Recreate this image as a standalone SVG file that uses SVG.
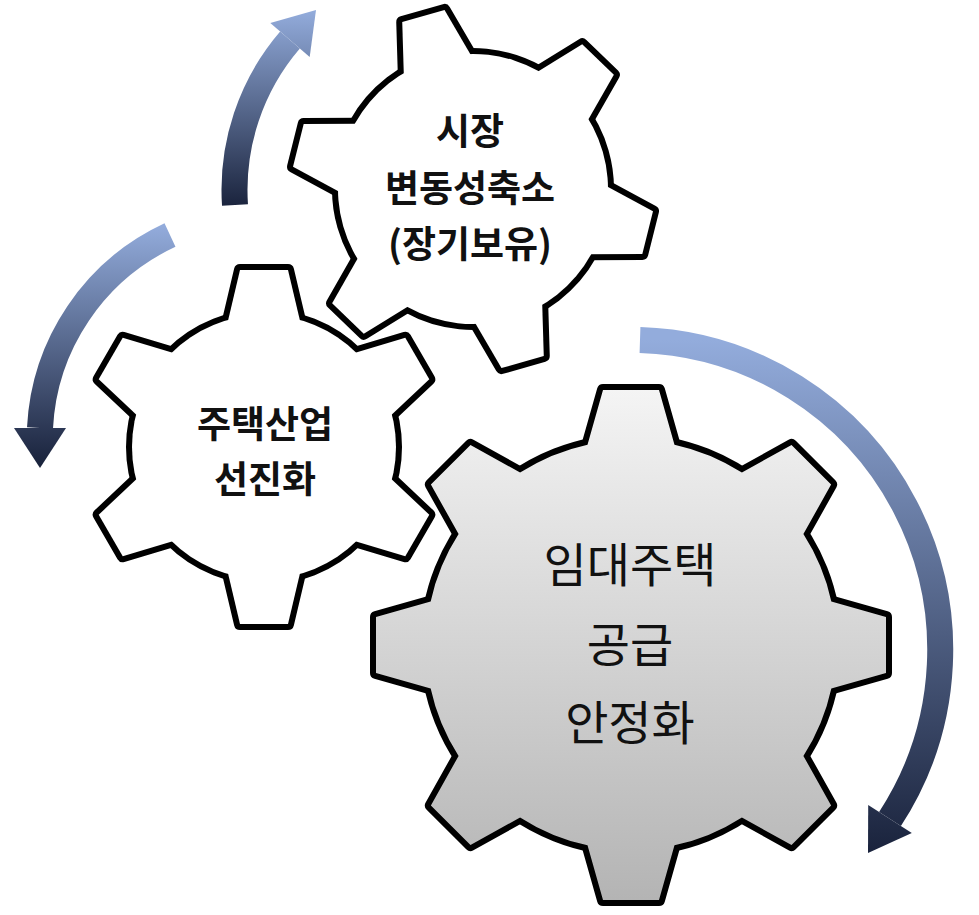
<svg xmlns="http://www.w3.org/2000/svg" width="979" height="915" viewBox="0 0 979 915">
<defs>
<linearGradient id="gBig" gradientUnits="userSpaceOnUse" x1="0" y1="390" x2="0" y2="900"><stop offset="0" stop-color="#f4f4f4"/><stop offset="1" stop-color="#b4b4b4"/></linearGradient>
<linearGradient id="aBig" gradientUnits="userSpaceOnUse" x1="0" y1="340" x2="0" y2="860"><stop offset="0" stop-color="#93acdc"/><stop offset="1" stop-color="#18213a"/></linearGradient>
<linearGradient id="aLeft" gradientUnits="userSpaceOnUse" x1="0" y1="225" x2="0" y2="468"><stop offset="0" stop-color="#93acdc"/><stop offset="1" stop-color="#18213a"/></linearGradient>
<linearGradient id="aTop" gradientUnits="userSpaceOnUse" x1="0" y1="10" x2="0" y2="210"><stop offset="0" stop-color="#93acdc"/><stop offset="1" stop-color="#18213a"/></linearGradient>
<polygon id="tBig" points="-45,-195 45,-195 28,-255 -28,-255"/>
<polygon id="tL" points="-37,-122 37,-122 24,-177 -24,-177"/>
<polygon id="tT" points="-36,-125 36,-125 22,-180 -22,-180"/>
<g id="big"><circle r="205"/><use href="#tBig"/><use href="#tBig" transform="rotate(45)"/><use href="#tBig" transform="rotate(90)"/><use href="#tBig" transform="rotate(135)"/><use href="#tBig" transform="rotate(180)"/><use href="#tBig" transform="rotate(225)"/><use href="#tBig" transform="rotate(270)"/><use href="#tBig" transform="rotate(315)"/></g>
<g id="left"><circle r="132"/><use href="#tL"/><use href="#tL" transform="rotate(60)"/><use href="#tL" transform="rotate(120)"/><use href="#tL" transform="rotate(180)"/><use href="#tL" transform="rotate(240)"/><use href="#tL" transform="rotate(300)"/></g>
<g id="top"><circle r="135"/><use href="#tT"/><use href="#tT" transform="rotate(60)"/><use href="#tT" transform="rotate(120)"/><use href="#tT" transform="rotate(180)"/><use href="#tT" transform="rotate(240)"/><use href="#tT" transform="rotate(300)"/></g>
<clipPath id="cb">
<circle cx="631" cy="645" r="205"/>
<use href="#tBig" transform="translate(631,645)"/>
<use href="#tBig" transform="translate(631,645) rotate(45)"/>
<use href="#tBig" transform="translate(631,645) rotate(90)"/>
<use href="#tBig" transform="translate(631,645) rotate(135)"/>
<use href="#tBig" transform="translate(631,645) rotate(180)"/>
<use href="#tBig" transform="translate(631,645) rotate(225)"/>
<use href="#tBig" transform="translate(631,645) rotate(270)"/>
<use href="#tBig" transform="translate(631,645) rotate(315)"/>
</clipPath>
</defs>
<style>
.o{stroke:#000;stroke-width:12;stroke-linejoin:round}
.t{font-family:"Noto Sans CJK KR","Noto Sans",sans-serif;fill:#111;text-anchor:middle}
</style>
<g id="connectors">
<path d="M640,340 A310,310 0 0 1 890,819" fill="none" stroke="url(#aBig)" stroke-width="26"/>
<polygon points="911.8,833 868.2,805 868,853" fill="url(#aBig)"/>
<path d="M170,235 A225,225 0 0 0 40,428" fill="none" stroke="url(#aLeft)" stroke-width="26"/>
<polygon points="14,428 66,428 40,468" fill="url(#aLeft)"/>
<path d="M235,205 A230,230 0 0 1 290,40" fill="none" stroke="url(#aTop)" stroke-width="26"/>
<polygon points="309.7,56.9 270.3,23.1 316,10" fill="url(#aTop)"/>
</g>
<g id="gearTop">
<g transform="translate(473,189) rotate(-16)"><use href="#top" class="o" fill="#fff"/><use href="#top" fill="#fff"/></g>
<g class="t" font-size="37" font-weight="bold"><text x="470" y="145">시장</text><text x="470" y="202">변동성축소</text><text x="470" y="258">(장기보유)</text></g>
</g>
<g id="gearLeft">
<g transform="translate(264,447)"><use href="#left" class="o" fill="#fff"/><use href="#left" fill="#fff"/></g>
<g class="t" font-size="37" font-weight="bold"><text x="265" y="438">주택산업</text><text x="265" y="493">선진화</text></g>
</g>
<g id="gearBig">
<g transform="translate(631,645)"><use href="#big" class="o" fill="#000"/></g>
<rect x="370" y="385" width="525" height="525" fill="url(#gBig)" clip-path="url(#cb)"/>
<g class="t" font-size="47"><text x="630" y="582">임대주택</text><text x="630" y="662">공급</text><text x="630" y="740">안정화</text></g>
</g>
</svg>
